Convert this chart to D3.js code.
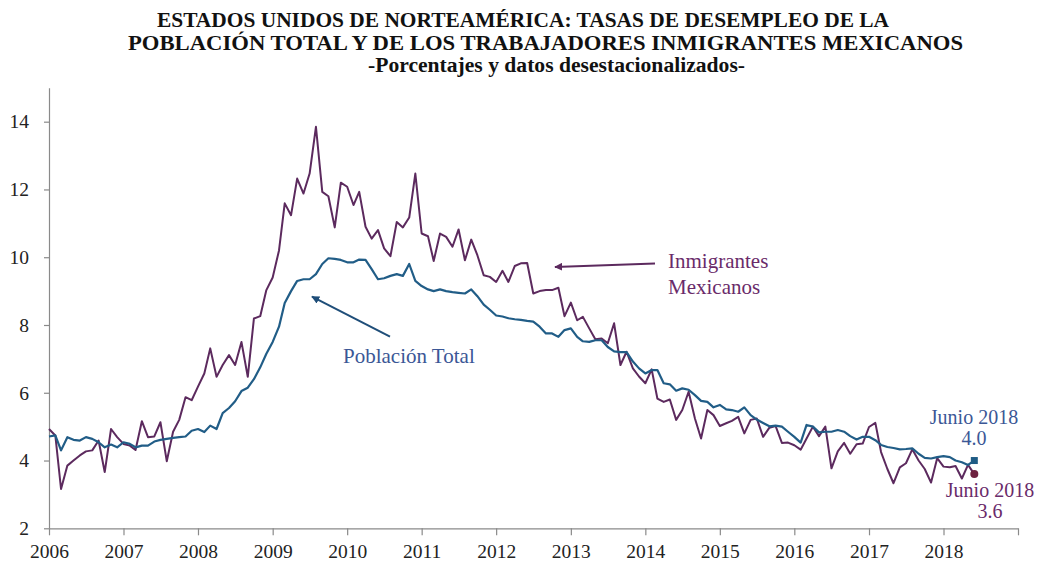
<!DOCTYPE html>
<html>
<head>
<meta charset="utf-8">
<script src="https://cdnjs.cloudflare.com/ajax/libs/d3/7.8.5/d3.min.js"></script>
<style>
body { margin: 0; background: #fff; }
svg, svg text { font-family: "Liberation Serif", "Times New Roman", serif !important; }
</style>
</head>
<body>
<script>
// monthly series, Jan 2006 .. Jun 2018
var startYear = 2006;
var yearTicks = [2006, 2007, 2008, 2009, 2010, 2011, 2012, 2013, 2014, 2015, 2016, 2017, 2018, 2019];
var yearLabels = ["2006", "2007", "2008", "2009", "2010", "2011", "2012", "2013", "2014", "2015", "2016", "2017", "2018"];
var yTicks = [2, 4, 6, 8, 10, 12, 14];

var totalRate = [
    4.71, 4.74, 4.3, 4.69, 4.61, 4.59, 4.69, 4.64, 4.54, 4.39, 4.47, 4.39,
    4.54, 4.49, 4.39, 4.44, 4.44, 4.56, 4.61, 4.64, 4.67, 4.69, 4.71, 4.88,
    4.93, 4.84, 5.03, 4.93, 5.4, 5.55, 5.75, 6.05, 6.15, 6.4, 6.75, 7.15,
    7.5, 7.95, 8.65, 9.0, 9.3, 9.35, 9.35, 9.5, 9.8, 9.97, 9.95, 9.92,
    9.85, 9.85, 9.93, 9.92, 9.65, 9.35, 9.38, 9.45, 9.5, 9.45, 9.8, 9.3,
    9.15, 9.05, 9.0, 9.05, 9.0, 8.97, 8.95, 8.93, 9.05, 8.85, 8.6, 8.45,
    8.28, 8.25, 8.2, 8.17, 8.15, 8.12, 8.1, 7.95, 7.75, 7.75, 7.65, 7.85,
    7.9, 7.65, 7.52, 7.5, 7.55, 7.55, 7.35, 7.22, 7.2, 7.2, 6.92, 6.72,
    6.57, 6.67, 6.67, 6.28, 6.25, 6.06, 6.13, 6.09, 5.93, 5.76, 5.73, 5.57,
    5.64, 5.51, 5.49, 5.44, 5.57, 5.34, 5.21, 5.11, 5.01, 5.03, 5.0, 4.85,
    4.7, 4.53, 5.05, 5.0, 4.83, 4.85, 4.85, 4.9, 4.85, 4.72, 4.62, 4.7,
    4.7, 4.6, 4.46, 4.4, 4.37, 4.33, 4.34, 4.36, 4.2, 4.08, 4.06, 4.1,
    4.13, 4.1, 4.0, 3.95, 3.87, 4.0
];

var mexRate = [
    4.93, 4.74, 3.16, 3.85, 4.0, 4.15, 4.27, 4.3, 4.59, 3.66, 4.93, 4.69,
    4.49, 4.44, 4.31, 5.16, 4.69, 4.71, 5.13, 3.98, 4.85, 5.2, 5.87, 5.78,
    6.18, 6.57, 7.31, 6.47, 6.82, 7.11, 6.82, 7.5, 6.47, 8.19, 8.26, 9.03,
    9.4, 10.2, 11.59, 11.24, 12.32, 11.88, 12.47, 13.85, 11.93, 11.8, 10.88, 12.2,
    12.08, 11.54, 11.93, 10.9, 10.55, 10.8, 10.26, 10.03, 11.04, 10.88, 11.17, 12.47,
    10.7, 10.62, 9.89, 10.7, 10.6, 10.31, 10.82, 9.91, 10.52, 10.06, 9.47, 9.42,
    9.27, 9.6, 9.27, 9.74, 9.82, 9.83, 8.93, 9.0, 9.03, 9.03, 9.1, 8.26,
    8.66, 8.14, 8.24, 7.9, 7.58, 7.6, 7.46, 8.05, 6.82, 7.21, 6.72, 6.48,
    6.28, 6.69, 5.83, 5.73, 5.8, 5.2, 5.49, 6.03, 5.24, 4.65, 5.49, 5.34,
    5.02, 5.1, 5.17, 5.29, 4.8, 5.2, 5.24, 4.7, 4.97, 5.02, 4.52, 4.53,
    4.45, 4.32, 4.65, 5.0, 4.72, 5.0, 3.77, 4.27, 4.52, 4.2, 4.48, 4.5,
    4.99, 5.11, 4.25, 3.75, 3.33, 3.8, 3.92, 4.33, 4.0, 3.75, 3.35, 4.07,
    3.82, 3.8, 3.84, 3.47, 3.87, 3.6
];

var titleLines = [
    "ESTADOS UNIDOS DE NORTEAMÉRICA: TASAS DE DESEMPLEO DE LA",
    "POBLACIÓN TOTAL Y DE LOS TRABAJADORES INMIGRANTES MEXICANOS",
    "-Porcentajes y datos desestacionalizados-"
];
var lastLabel = "Junio 2018";

var blueLine = "#215d87";
var purpleLine = "#5c2a5e";

var dates = totalRate.map(function(d, i) { return new Date(startYear, i, 1); });

var svg = d3.select("body").append("svg")
    .attr("width", 1039)
    .attr("height", 563);

var x = d3.scaleTime()
    .domain([new Date(2006, 0, 1), new Date(2019, 0, 1)])
    .range([49, 1018]);
var y = d3.scaleLinear()
    .domain([2, 15])
    .range([528.3, 87.8]);

// title
var titlePos = [[157, 27, 732, 21], [128, 50, 835, 21], [368, 72, 377, 20]];
titleLines.forEach(function(t, i) {
    svg.append("text")
        .attr("x", titlePos[i][0])
        .attr("y", titlePos[i][1])
        .attr("textLength", titlePos[i][2])
        .attr("lengthAdjust", "spacingAndGlyphs")
        .attr("font-size", titlePos[i][3])
        .attr("font-weight", "bold")
        .attr("fill", "#111")
        .text(t);
});

// axes
var xAxis = svg.append("g")
    .attr("transform", "translate(0," + y(2) + ")")
    .call(d3.axisBottom(x)
        .tickValues(yearTicks.map(function(yr) { return new Date(yr, 0, 1); }))
        .tickFormat(function(d, i) { return yearLabels[i] || ""; })
        .tickSize(7)
        .tickSizeOuter(0)
        .tickPadding(9));

var yAxis = svg.append("g")
    .attr("transform", "translate(" + x(new Date(2006, 0, 1)) + ",0)")
    .call(d3.axisLeft(y)
        .tickValues(yTicks)
        .tickSize(5)
        .tickSizeOuter(0)
        .tickPadding(15));

[xAxis, yAxis].forEach(function(a) {
    a.attr("font-family", null);
    a.select(".domain").attr("stroke", "#8a8a8a").attr("stroke-width", 1.2);
    a.selectAll(".tick line").attr("stroke", "#8a8a8a").attr("stroke-width", 1.2);
    a.selectAll(".tick text")
        .attr("fill", "#222")
        .attr("font-size", 19.5);
});

// lines
var line = d3.line()
    .x(function(d, i) { return x(dates[i]); })
    .y(function(d) { return y(d); });

svg.append("path")
    .datum(mexRate)
    .attr("fill", "none")
    .attr("stroke", purpleLine)
    .attr("stroke-width", 2)
    .attr("stroke-linejoin", "round")
    .attr("d", line);

svg.append("path")
    .datum(totalRate)
    .attr("fill", "none")
    .attr("stroke", blueLine)
    .attr("stroke-width", 2.2)
    .attr("stroke-linejoin", "round")
    .attr("d", line);

// end markers
var n = totalRate.length - 1;
svg.append("rect")
    .attr("x", x(dates[n]) - 3.5)
    .attr("y", y(totalRate[n]) - 3.5)
    .attr("width", 7)
    .attr("height", 7)
    .attr("fill", "#1f5c85");
svg.append("circle")
    .attr("cx", x(dates[n]))
    .attr("cy", y(mexRate[n]))
    .attr("r", 4)
    .attr("fill", "#6e2240");

// arrows
var defs = svg.append("defs");
[["arrowBlue", "#1f4e79"], ["arrowPurple", "#5c2a5e"]].forEach(function(m) {
    defs.append("marker")
        .attr("id", m[0])
        .attr("viewBox", "0 0 10 10")
        .attr("refX", 9)
        .attr("refY", 5)
        .attr("markerWidth", 4)
        .attr("markerHeight", 4)
        .attr("orient", "auto")
        .append("path")
        .attr("d", "M0,0L10,5L0,10z")
        .attr("fill", m[1]);
});

svg.append("line")
    .attr("x1", 390).attr("y1", 336.7)
    .attr("x2", 312).attr("y2", 296.7)
    .attr("stroke", "#1f4e79")
    .attr("stroke-width", 2)
    .attr("marker-end", "url(#arrowBlue)");

svg.append("line")
    .attr("x1", 655).attr("y1", 263.5)
    .attr("x2", 555).attr("y2", 267)
    .attr("stroke", "#5c2a5e")
    .attr("stroke-width", 2)
    .attr("marker-end", "url(#arrowPurple)");

// labels
svg.append("text")
    .attr("x", 343).attr("y", 363)
    .attr("font-size", 21)
    .attr("fill", "#3b5796")
    .text("Población Total");

svg.append("text")
    .attr("x", 668).attr("y", 268)
    .attr("font-size", 21)
    .attr("fill", "#6a2b6a")
    .text("Inmigrantes");
svg.append("text")
    .attr("x", 668).attr("y", 294)
    .attr("font-size", 21)
    .attr("fill", "#6a2b6a")
    .text("Mexicanos");

svg.append("text")
    .attr("x", 974).attr("y", 424)
    .attr("text-anchor", "middle")
    .attr("font-size", 20)
    .attr("fill", "#3b5796")
    .text(lastLabel);
svg.append("text")
    .attr("x", 974).attr("y", 445)
    .attr("text-anchor", "middle")
    .attr("font-size", 20)
    .attr("fill", "#3b5796")
    .text(totalRate[n].toFixed(1));

svg.append("text")
    .attr("x", 990).attr("y", 497)
    .attr("text-anchor", "middle")
    .attr("font-size", 20)
    .attr("fill", "#6a2b6a")
    .text(lastLabel);
svg.append("text")
    .attr("x", 990).attr("y", 518)
    .attr("text-anchor", "middle")
    .attr("font-size", 20)
    .attr("fill", "#6a2b6a")
    .text(mexRate[n].toFixed(1));
</script>
</body>
</html>
